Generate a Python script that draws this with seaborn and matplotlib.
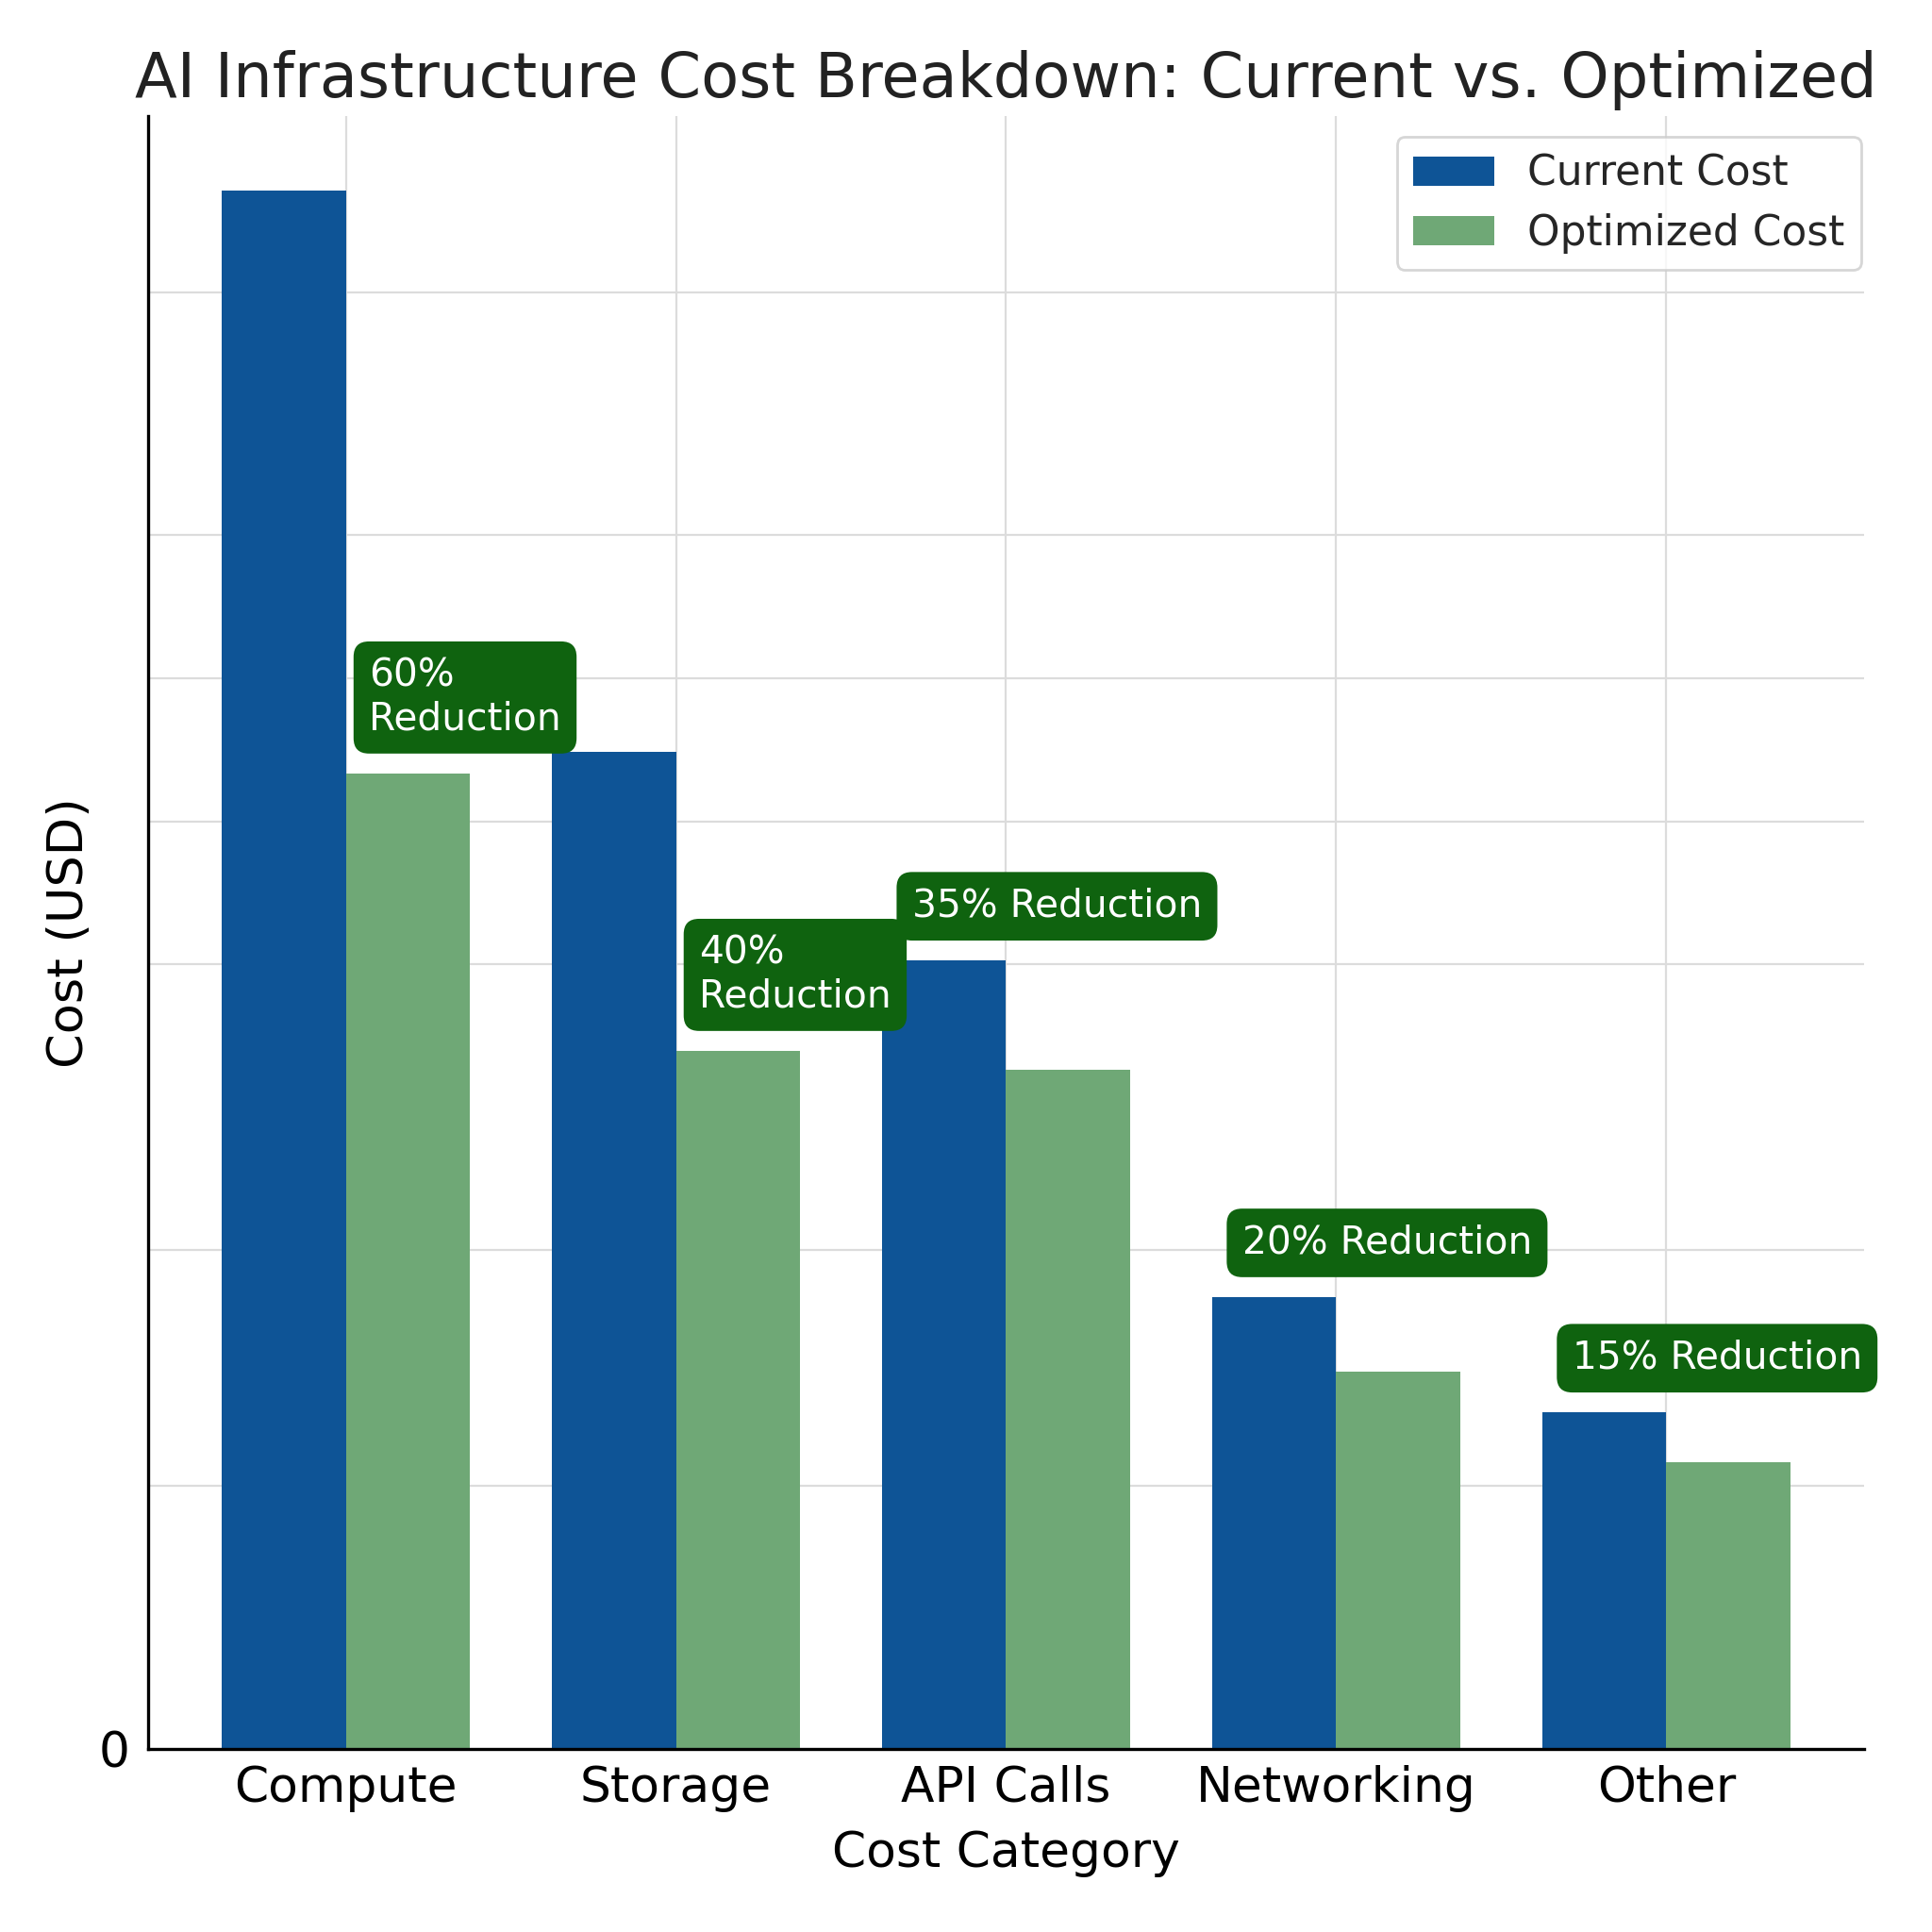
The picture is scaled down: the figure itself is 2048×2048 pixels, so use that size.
import numpy as np
import pandas as pd
import matplotlib.pyplot as plt
import seaborn as sns

# valores (USD, estimados)
categories = ["Compute", "Storage", "API Calls", "Networking", "Other"]
current_cost = [50000, 32000, 25300, 14500, 10800]
optimized_cost = [31300, 22400, 21800, 12100, 9200]
reduction_labels = ["60%\nReduction", "40%\nReduction", "35% Reduction",
                    "20% Reduction", "15% Reduction"]
series_names = ["Current Cost", "Optimized Cost"]
grid_values = [0, 8450, 16000, 25200, 29750, 34350, 38950, 46750]

df = pd.DataFrame({
    "Cost Category": categories * 2,
    "Cost (USD)": current_cost + optimized_cost,
    "Series": [series_names[0]] * len(categories) + [series_names[1]] * len(categories),
})

sns.set_theme(style="whitegrid")
plt.rcParams["font.family"] = ["DejaVu Sans"]

fig, ax = plt.subplots(figsize=(10.24, 10.24), dpi=200)
fig.subplots_adjust(left=0.0765, right=0.965, bottom=0.0947, top=0.94)

sns.barplot(data=df, x="Cost Category", y="Cost (USD)", hue="Series",
            palette=["#0e5496", "#6fa876"], width=0.75, gap=0,
            saturation=1, edgecolor="none", linewidth=0, ax=ax)

# caixas de redução
for i, label in enumerate(reduction_labels):
    two_line = "\n" in label
    base = optimized_cost[i] if two_line else current_cost[i]
    x = i + 0.07 if two_line else i - 0.285
    ax.annotate(label, xy=(x, base), xytext=(0, 13.5), textcoords="offset points",
                ha="left", va="bottom", fontsize=14.7, color="white", linespacing=1.2,
                bbox=dict(boxstyle="round,pad=0.4", facecolor="#0f630f", edgecolor="none"))

ax.set_xlim(-0.6, 4.6)
ax.set_ylim(0, 52400)
ax.set_yticks(grid_values)
ax.set_yticklabels(["0"] + [""] * (len(grid_values) - 1))

ax.grid(True, axis="both", color="#dcdcdc", linewidth=0.8)
ax.set_axisbelow(True)
ax.tick_params(axis="both", length=0, labelsize=18.7, colors="black")
ax.tick_params(axis="x", pad=6)
ax.tick_params(axis="y", pad=7)

for side in ["top", "right"]:
    ax.spines[side].set_visible(False)
for side in ["left", "bottom"]:
    ax.spines[side].set_color("black")
    ax.spines[side].set_linewidth(1.2)

ax.set_title("AI Infrastructure Cost Breakdown: Current vs. Optimized",
             fontsize=23.6, color="#222222", pad=7)
ax.set_xlabel("Cost Category", fontsize=18.7, color="black", labelpad=7)
ax.set_ylabel("Cost (USD)", fontsize=18.9, color="black", labelpad=2)

ax.legend(title=None, loc="upper right", bbox_to_anchor=(0.998, 0.987),
          borderaxespad=0, fontsize=15.8, frameon=True, fancybox=True,
          edgecolor="#cccccc", framealpha=0.8, handlelength=1.95,
          handletextpad=0.8, labelspacing=0.45, borderpad=0.4)

plt.savefig("out.png", dpi=200)
